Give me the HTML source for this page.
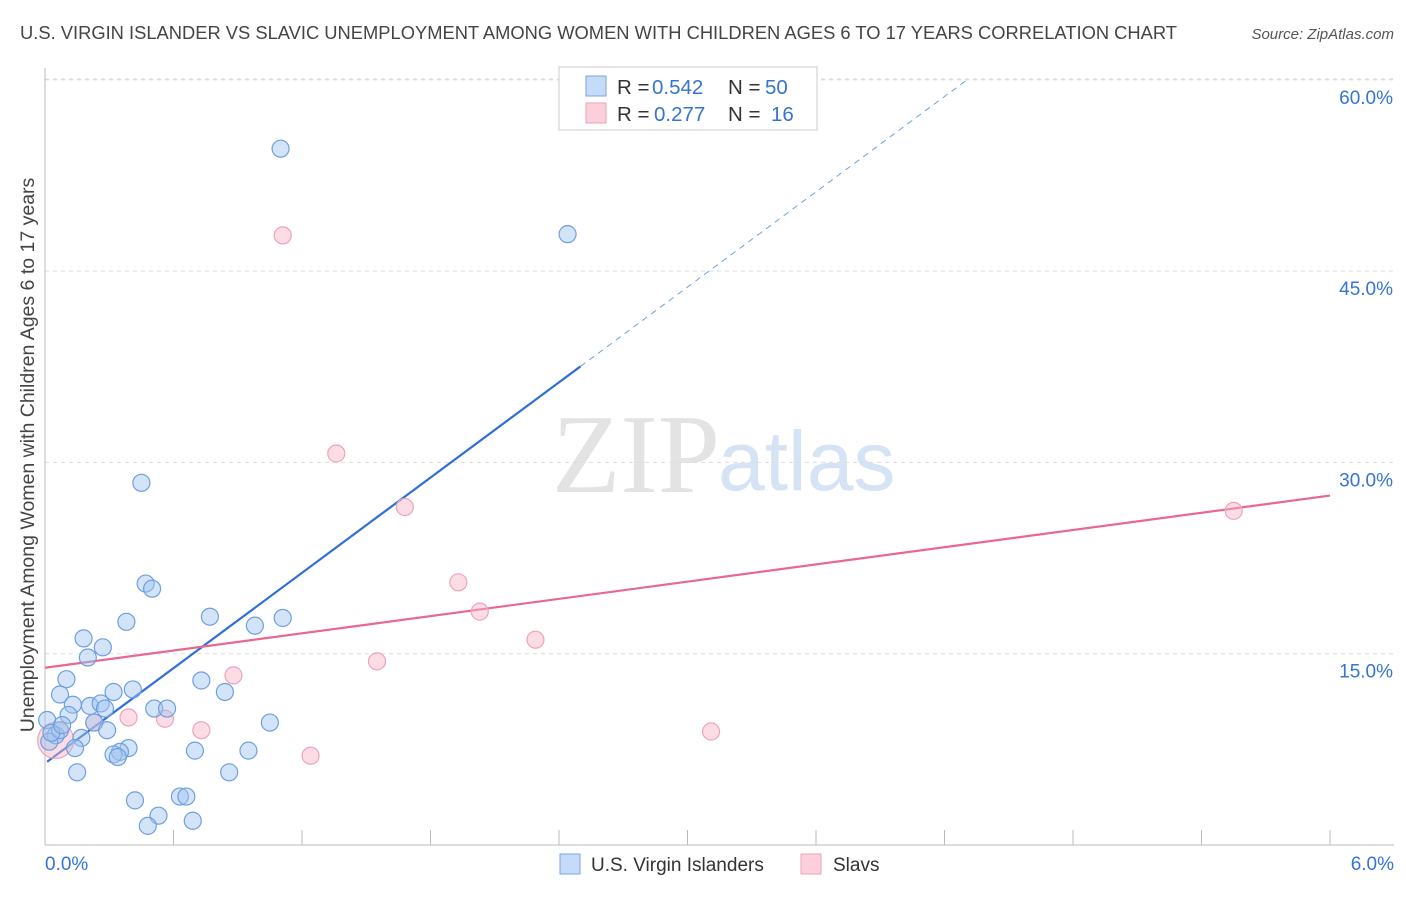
<!DOCTYPE html>
<html><head><meta charset="utf-8"><style>
body{margin:0;background:#fff;font-family:"Liberation Sans",sans-serif}
</style></head><body>
<svg width="1406" height="892" xmlns="http://www.w3.org/2000/svg">
<text x="20" y="39" font-size="18" fill="#444" textLength="1157" lengthAdjust="spacingAndGlyphs">U.S. VIRGIN ISLANDER VS SLAVIC UNEMPLOYMENT AMONG WOMEN WITH CHILDREN AGES 6 TO 17 YEARS CORRELATION CHART</text>
<text x="1394" y="39" font-size="15" fill="#555" font-style="italic" text-anchor="end">Source: ZipAtlas.com</text>
<text x="552" y="492" font-size="112" fill="#e3e3e3" font-family="Liberation Serif,serif">ZIP</text>
<text x="718" y="490" font-size="84" fill="#d6e3f5">atlas</text>
<g id="grid"></g>
<g id="axes"></g>
<g id="lines"></g>
<g id="pts"></g>
<text transform="translate(34,455) rotate(-90)" font-size="19.5" fill="#444" text-anchor="middle">Unemployment Among Women with Children Ages 6 to 17 years</text>
<g>
<rect x="559" y="67" width="258" height="63" fill="#fff" stroke="#ccc"/>
<rect x="586" y="76" width="20" height="20" fill="#c5dbf7" stroke="#7aa6e0"/>
<rect x="586" y="103" width="20" height="20" fill="#fbd0dc" stroke="#eea3b8"/>
<g font-size="20.5" fill="#333">
<text x="617" y="94">R =</text><text x="652" y="94" fill="#3574d4">0.542</text><text x="728" y="94">N =</text><text x="765" y="94" fill="#3574d4">50</text>
<text x="617" y="121">R =</text><text x="654" y="121" fill="#3574d4">0.277</text><text x="728" y="121">N =</text><text x="771" y="121" fill="#3574d4">16</text>
</g>
</g>
<g>
<rect x="560" y="854" width="20" height="20" fill="#c5dbf7" stroke="#7aa6e0"/>
<text x="591" y="871" font-size="19" fill="#333">U.S. Virgin Islanders</text>
<rect x="801" y="854" width="20" height="20" fill="#fbd0dc" stroke="#eea3b8"/>
<text x="833" y="871" font-size="19" fill="#333">Slavs</text>
</g>
</svg>
<script>
const yTicks=[15,30,45,60];
const yTickLabels=["15.0%","30.0%","45.0%","60.0%"];
const xTickLabels=["0.0%","6.0%"];
const blueX=[1.10,2.44,0.45,0.47,0.50,0.38,0.77,1.11,0.98,0.18,0.27,0.20,0.10,0.73,0.07,0.32,0.84,0.41,0.13,0.21,0.26,0.51,0.57,0.28,0.11,0.23,1.05,0.01,0.29,0.05,0.17,0.02,0.14,0.39,0.35,0.32,0.34,0.70,0.95,0.15,0.86,0.42,0.63,0.66,0.53,0.48,0.69,0.07,0.03,0.08];
const blueY=[54.6,47.9,28.4,20.5,20.1,17.5,17.9,17.8,17.2,16.2,15.5,14.7,13.0,12.9,11.8,12.0,12.0,12.2,11.0,10.9,11.1,10.7,10.7,10.7,10.2,9.6,9.6,9.8,9.0,8.6,8.4,8.1,7.6,7.6,7.3,7.1,6.9,7.4,7.4,5.7,5.7,3.5,3.8,3.8,2.3,1.5,1.9,9.0,8.8,9.4];
const pinkX=[1.11,1.36,1.68,5.55,1.93,2.03,2.29,1.55,0.88,0.39,0.56,0.73,3.11,1.24,0.23,0.05];
const pinkY=[47.8,30.7,26.5,26.2,20.6,18.3,16.1,14.4,13.3,10.0,9.9,9.0,8.9,7.0,9.6,8.2];
const blueFit=[6.4,12.45]; const pinkFit=[13.9,2.25];
const X=v=>45+v*214.17, Y=v=>845-v*12.753;
const NS="http://www.w3.org/2000/svg";
function mk(p,t,a){const e=document.createElementNS(NS,t);for(const k in a)e.setAttribute(k,a[k]);document.getElementById(p).appendChild(e);return e;}
yTicks.forEach((v,i)=>{
 const l=mk('grid','line',{x1:45,x2:1394,y1:Y(v),y2:Y(v),stroke:'#ddd','stroke-dasharray':'4,4'});
 
 
 const t=mk('grid','text',{x:1393,y:Y(v)+24,'font-size':19,fill:'#3574d4','text-anchor':'end'});t.textContent=yTickLabels[i];
 
 
});
const topGrid=mk('grid','line',{x1:45,x2:1394,y1:79,y2:79,stroke:'#ddd','stroke-dasharray':'4,4'});


const xa=mk('axes','line',{x1:45,x2:1394,y1:845,y2:845,stroke:'#bbb'});


const ya=mk('axes','line',{x1:45,x2:45,y1:68,y2:845,stroke:'#bbb'});


for(let i=0;i<=10;i++){const v=i*0.6;const t=mk('axes','line',{x1:X(v),x2:X(v),y1:830,y2:845,stroke:'#bbb'});
 
 }
[[0,'start',45],[6,'end',1394]].forEach((d,i)=>{const t=mk('axes','text',{x:d[2],y:870,'font-size':19,fill:'#3574d4','text-anchor':d[1]});t.textContent=xTickLabels[i];
 
 });
pinkX.forEach((x,i)=>{const c=mk('pts','circle',{cx:X(x),cy:Y(pinkY[i]),r:i==15?18:8.5,fill:'rgba(248,180,200,0.45)',stroke:'#eea3b8','stroke-width':1.2});
 
 });
blueX.forEach((x,i)=>{const c=mk('pts','circle',{cx:X(x),cy:Y(blueY[i]),r:8.5,fill:'rgba(160,195,240,0.45)',stroke:'#6f9fdf','stroke-width':1.2});
 
 });
const bs=mk('lines','line',{x1:X(0.01),y1:Y(blueFit[0]+blueFit[1]*0.01),x2:X(2.5),y2:Y(blueFit[0]+blueFit[1]*2.5),stroke:'#2f6fd6','stroke-width':2.2});


const bd=mk('lines','line',{x1:X(2.5),y1:Y(blueFit[0]+blueFit[1]*2.5),x2:X(4.3),y2:Y(blueFit[0]+blueFit[1]*4.3),stroke:'#6f9fdf','stroke-width':1,'stroke-dasharray':'6,5'});


const pl=mk('lines','line',{x1:X(0),y1:Y(pinkFit[0]),x2:X(6),y2:Y(pinkFit[0]+pinkFit[1]*6),stroke:'#e8688f','stroke-width':2.2});


</script>
</body></html>
